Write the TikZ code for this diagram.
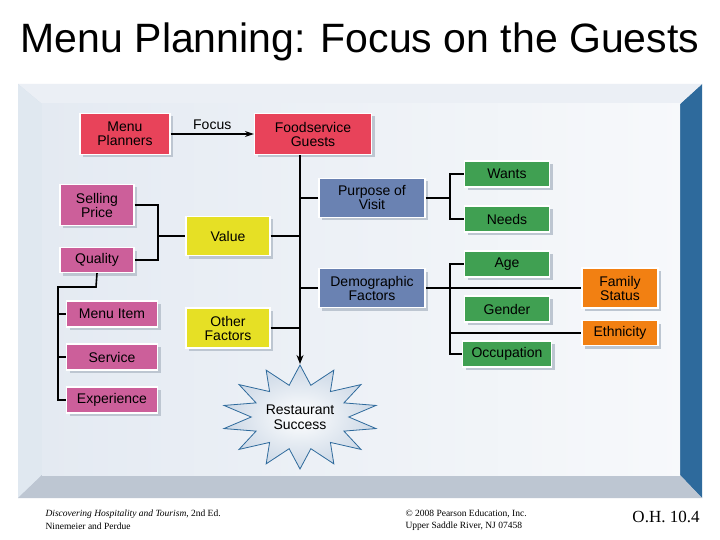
\documentclass[tikz,border=0pt]{standalone}
\usepackage{fontspec}
\setmainfont{Liberation Sans}
\newfontfamily\tms{Liberation Serif}
\usetikzlibrary{shapes.geometric,shadows,arrows.meta}
\definecolor{cred}{HTML}{E8435A}
\definecolor{cpink}{HTML}{CC5F9A}
\definecolor{cyel}{HTML}{E6E025}
\definecolor{cblue}{HTML}{6A82B2}
\definecolor{cgreen}{HTML}{40A052}
\definecolor{corange}{HTML}{F28012}
\definecolor{panel}{HTML}{E4EAF2}
\definecolor{bevel}{HTML}{CCD8E6}
\definecolor{dblue}{HTML}{2E6A9C}
\tikzset{
 box/.style={draw=white,line width=1.2pt,align=center,font=\fontsize{14}{14}\selectfont,inner sep=0pt,
   drop shadow={shadow xshift=3pt,shadow yshift=-3pt,fill=bevel!80!gray,opacity=1}},
 ln/.style={line width=1.6pt,black},
}
\begin{document}
\begin{tikzpicture}[x=1pt,y=-1pt]
\useasboundingbox (0,0) rectangle (720,540);
\fill[white] (0,0) rectangle (720,540);
\node[font=\fontsize{41}{41}\selectfont] (title) at (360,42) {Menu Planning: Focus on the Guests};
% frame
\fill[bevel] (18,84) rectangle (702,498);
\fill[dblue] (680,104) -- (702,84) -- (702,498) -- (680,475) -- cycle;
\fill[white!60!bevel] (18,84) -- (702,84) -- (680,104) -- (42,104) -- cycle;
\fill[white!40!bevel] (18,84) -- (42,104) -- (42,475) -- (18,498) -- cycle;
\fill[bevel!80!gray] (18,498) -- (42,475) -- (680,475) -- (702,498) -- cycle;
\shade[left color=panel, right color=white!70!panel] (42,104) rectangle (680,475);
% nodes
\node[box,fill=cred,minimum width=90pt,minimum height=41pt] (mp) at (125,134) {Menu\\Planners};
\node[box,fill=cred,minimum width=117pt,minimum height=41pt] (fg) at (313,134) {Foodservice\\Guests};
\node[box,fill=cpink,minimum width=74pt,minimum height=41pt] (sp) at (97,205) {Selling\\Price};
\node[box,fill=cpink,minimum width=74pt,minimum height=25pt] (qu) at (97,260) {Quality};
\node[box,fill=cyel,minimum width=84pt,minimum height=39pt] (va) at (228,236) {Value};
\node[box,fill=cyel,minimum width=84pt,minimum height=40pt] (of) at (228,328) {Other\\Factors};
\node[box,fill=cpink,minimum width=91pt,minimum height=26pt] (mi) at (112,314) {Menu Item};
\node[box,fill=cpink,minimum width=91pt,minimum height=26pt] (se) at (112,357) {Service};
\node[box,fill=cpink,minimum width=91pt,minimum height=26pt] (ex) at (112,400) {Experience};
\node[box,fill=cblue,minimum width=106pt,minimum height=39pt] (pv) at (372,198) {Purpose of\\Visit};
\node[box,fill=cblue,minimum width=106pt,minimum height=39pt] (df) at (372,288) {Demographic\\Factors};
\node[box,fill=cgreen,minimum width=85pt,minimum height=26pt] (wa) at (507,174) {Wants};
\node[box,fill=cgreen,minimum width=85pt,minimum height=26pt] (ne) at (507,219) {Needs};
\node[box,fill=cgreen,minimum width=85pt,minimum height=26pt] (ag) at (507,264) {Age};
\node[box,fill=cgreen,minimum width=85pt,minimum height=26pt] (ge) at (507,309) {Gender};
\node[box,fill=cgreen,minimum width=89pt,minimum height=26pt] (oc) at (507,354) {Occupation};
\node[box,fill=corange,minimum width=76pt,minimum height=40pt] (fs) at (620,288) {Family\\Status};
\node[box,fill=corange,minimum width=76pt,minimum height=25pt] (et) at (620,333) {Ethnicity};
\node[star,star points=14,star point ratio=1.6,draw=dblue,line width=0.8pt,inner color=white,outer color=bevel,
  minimum size=104pt,inner sep=0pt,xscale=1.5] (rs) at (300,417) {};
\node[align=center,font=\fontsize{14}{15}\selectfont] (rst) at (300,417) {Restaurant\\Success};
% connectors
\draw[line width=1.3pt,-{Stealth[length=9pt,width=6pt]}] (mp.east) -- node[above,font=\fontsize{14}{14}\selectfont]{Focus} (fg.west);
\coordinate (spine) at (300,364);
\draw[ln,-{Stealth[length=9pt,width=7pt]}] (fg.south -| spine) -- (spine);
\draw[ln] (pv.west) -- (pv.west -| spine);
\draw[ln] (va.east) -- (va.east -| spine);
\draw[ln] (df.west) -- (df.west -| spine);
\draw[ln] (of.east) -- (of.east -| spine);
\draw[ln] (sp.east) -- (158,205) -- (158,260) -- (qu.east);
\draw[ln] (158,236) -- (va.west);
\draw[ln] (qu.south) -- (96,287) -- (58,287) -- (58,400) -- (ex.west);
\draw[ln] (58,314) -- (mi.west); \draw[ln] (58,357) -- (se.west);
\draw[ln] (pv.east) -- (450,198);
\draw[ln] (wa.west) -- (450,174) -- (450,219) -- (ne.west);
\draw[ln] (df.east) -- (fs.west);
\draw[ln] (ag.west) -- (450,264) -- (450,354) -- (oc.west);
\draw[ln] (450,333) -- (et.west);
% footer
\node[anchor=west,font=\tms\fontsize{9.5}{9.5}\selectfont] (f1) at (42,514) {\textit{Discovering Hospitality and Tourism}, 2nd Ed.};
\node[anchor=west,font=\tms\fontsize{9.5}{9.5}\selectfont] (f2) at (42,526) {Ninemeier and Perdue};
\node[anchor=west,font=\tms\fontsize{9.5}{9.5}\selectfont] (f3) at (402,514) {© 2008 Pearson Education, Inc.};
\node[anchor=west,font=\tms\fontsize{9.5}{9.5}\selectfont] (f4) at (402,526) {Upper Saddle River, NJ 07458};
\node[font=\tms\fontsize{17}{17}\selectfont] (oh) at (666,517) {O.H. 10.4};
\end{tikzpicture}
\end{document}
